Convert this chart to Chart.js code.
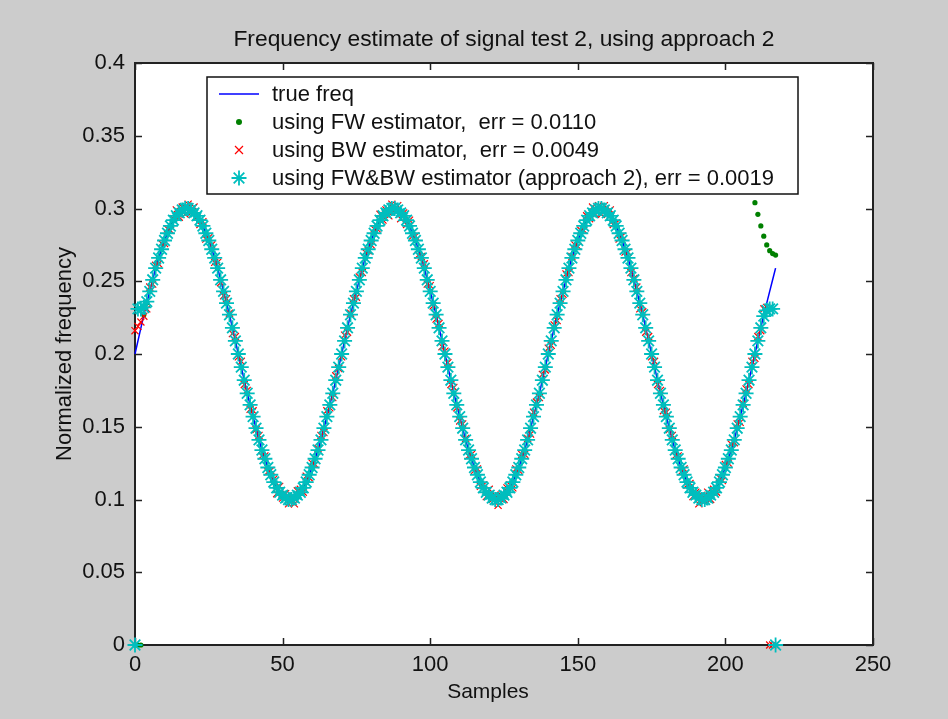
<!DOCTYPE html>
<html><head><meta charset="utf-8">
<script src="https://cdn.jsdelivr.net/npm/chart.js@4.4.1/dist/chart.umd.min.js"></script>
<style>html,body{margin:0;padding:0;background:#cccccc;overflow:hidden}canvas{display:block}</style>
</head><body>
<canvas id="c" width="948" height="719"></canvas>
<script>
const titleText = 'Frequency estimate of signal test 2, using approach 2';
const xTitle = 'Samples';
const yTitle = 'Normalized frequency';
const seriesLabels = [
  'true freq',
  'using FW estimator,  err = 0.0110',
  'using BW estimator,  err = 0.0049',
  'using FW&BW estimator (approach 2), err = 0.0019'
];
const xTickLabels = ['0','50','100','150','200','250'];
const yTickLabels = ['0','0.05','0.1','0.15','0.2','0.25','0.3','0.35','0.4'];

// true normalized frequency, samples 0..217
const trueFreq = [
0.200,0.209,0.218,0.227,0.235,0.243,0.251,0.259,0.266,0.272,0.278,0.283,0.288,0.292,0.295,0.297,0.299,0.300,0.300,0.299,0.297,0.295,0.292,0.288,0.283,0.278,0.272,0.266,0.259,0.251,0.243,0.235,0.227,0.218,0.209,0.200,0.191,0.182,0.173,0.165,0.157,0.149,0.141,0.134,0.128,0.122,0.117,0.112,0.108,0.105,0.103,0.101,0.100,0.100,0.101,0.103,0.105,0.108,0.112,0.117,0.122,0.128,0.134,0.141,0.149,0.157,0.165,0.173,0.182,0.191,
0.200,0.209,0.218,0.227,0.235,0.243,0.251,0.259,0.266,0.272,0.278,0.283,0.288,0.292,0.295,0.297,0.299,0.300,0.300,0.299,0.297,0.295,0.292,0.288,0.283,0.278,0.272,0.266,0.259,0.251,0.243,0.235,0.227,0.218,0.209,0.200,0.191,0.182,0.173,0.165,0.157,0.149,0.141,0.134,0.128,0.122,0.117,0.112,0.108,0.105,0.103,0.101,0.100,0.100,0.101,0.103,0.105,0.108,0.112,0.117,0.122,0.128,0.134,0.141,0.149,0.157,0.165,0.173,0.182,0.191,
0.200,0.209,0.218,0.227,0.235,0.243,0.251,0.259,0.266,0.272,0.278,0.283,0.288,0.292,0.295,0.297,0.299,0.300,0.300,0.299,0.297,0.295,0.292,0.288,0.283,0.278,0.272,0.266,0.259,0.251,0.243,0.235,0.227,0.218,0.209,0.200,0.191,0.182,0.173,0.165,0.157,0.149,0.141,0.134,0.128,0.122,0.117,0.112,0.108,0.105,0.103,0.101,0.100,0.100,0.101,0.103,0.105,0.108,0.112,0.117,0.122,0.128,0.134,0.141,0.149,0.157,0.165,0.173,0.182,0.191,
0.200,0.209,0.218,0.227,0.235,0.243,0.251,0.259
];

// forward estimator
const fwEst = [
0,0,0,0.227,0.235,0.243,0.251,0.259,0.266,0.272,0.278,0.283,0.288,0.292,0.295,0.297,0.299,0.300,0.300,0.299,0.297,0.295,0.292,0.288,0.283,0.278,0.272,0.266,0.259,0.251,0.243,0.235,0.227,0.218,0.209,0.200,0.191,0.182,0.173,0.165,0.157,0.149,0.141,0.134,0.128,0.122,0.117,0.112,0.108,0.105,0.103,0.101,0.100,0.100,0.101,0.103,0.105,0.108,0.112,0.117,0.122,0.128,0.134,0.141,0.149,0.157,0.165,0.173,0.182,0.191,
0.200,0.209,0.218,0.227,0.235,0.243,0.251,0.259,0.266,0.272,0.278,0.283,0.288,0.292,0.295,0.297,0.299,0.300,0.300,0.299,0.297,0.295,0.292,0.288,0.283,0.278,0.272,0.266,0.259,0.251,0.243,0.235,0.227,0.218,0.209,0.200,0.191,0.182,0.173,0.165,0.157,0.149,0.141,0.134,0.128,0.122,0.117,0.112,0.108,0.105,0.103,0.101,0.100,0.100,0.101,0.103,0.105,0.108,0.112,0.117,0.122,0.128,0.134,0.141,0.149,0.157,0.165,0.173,0.182,0.191,
0.200,0.209,0.218,0.227,0.235,0.243,0.251,0.259,0.266,0.272,0.278,0.283,0.288,0.292,0.295,0.297,0.299,0.300,0.300,0.299,0.297,0.295,0.292,0.288,0.283,0.278,0.272,0.266,0.259,0.251,0.243,0.235,0.227,0.218,0.209,0.200,0.191,0.182,0.173,0.165,0.157,0.149,0.141,0.134,0.128,0.122,0.117,0.112,0.108,0.105,0.103,0.101,0.100,0.100,0.101,0.103,0.105,0.108,0.112,0.117,0.122,0.128,0.134,0.141,0.149,0.157,0.165,0.173,0.182,0.191,
0.304,0.296,0.288,0.281,0.275,0.271,0.269,0.268
];

// backward estimator
const bwEst = [
0.216,0.219,0.222,0.226,0.231,0.246,0.248,0.261,0.262,0.276,0.276,0.286,0.285,0.293,0.299,0.294,0.301,0.296,0.303,0.297,0.301,0.294,0.289,0.291,0.279,0.280,0.275,0.263,0.263,0.249,0.240,0.238,0.228,0.214,0.212,0.198,0.195,0.179,0.175,0.162,0.161,0.148,0.144,0.130,0.130,0.119,0.120,0.114,0.104,0.109,0.101,0.104,0.097,0.101,0.097,0.106,0.107,0.105,0.116,0.115,0.125,0.124,0.135,0.144,0.146,0.161,0.163,0.170,0.185,0.190,
0.198,0.213,0.215,0.228,0.238,0.239,0.253,0.256,0.270,0.271,0.275,0.286,0.286,0.296,0.292,0.299,0.295,0.303,0.299,0.302,0.293,0.297,0.289,0.292,0.281,0.281,0.268,0.267,0.262,0.248,0.247,0.233,0.224,0.221,0.205,0.202,0.194,0.179,0.177,0.163,0.154,0.152,0.142,0.130,0.131,0.120,0.121,0.109,0.110,0.102,0.107,0.100,0.103,0.096,0.103,0.100,0.108,0.110,0.108,0.121,0.120,0.131,0.131,0.142,0.145,0.160,0.167,0.170,0.186,0.189,
0.204,0.206,0.220,0.223,0.238,0.241,0.255,0.256,0.267,0.275,0.274,0.285,0.285,0.295,0.293,0.301,0.296,0.302,0.296,0.302,0.296,0.299,0.289,0.290,0.279,0.281,0.270,0.270,0.256,0.252,0.246,0.231,0.229,0.215,0.212,0.198,0.195,0.179,0.175,0.161,0.160,0.148,0.144,0.130,0.130,0.119,0.121,0.110,0.111,0.102,0.105,0.097,0.103,0.099,0.105,0.100,0.107,0.105,0.115,0.113,0.124,0.125,0.138,0.139,0.152,0.153,0.166,0.176,0.179,0.195,
0.197,0.212,0.216,0.231,0.232,0,0,0
];

// combined forward & backward estimator (approach 2)
const fwbwEst = [
0,0.231,0.231,0.232,0.236,0.243,0.251,0.259,0.266,0.272,0.278,0.283,0.288,0.292,0.295,0.297,0.299,0.300,0.300,0.299,0.297,0.295,0.292,0.288,0.283,0.278,0.272,0.266,0.259,0.251,0.243,0.235,0.227,0.218,0.209,0.200,0.191,0.182,0.173,0.165,0.157,0.149,0.141,0.134,0.128,0.122,0.117,0.112,0.108,0.105,0.103,0.101,0.100,0.100,0.101,0.103,0.105,0.108,0.112,0.117,0.122,0.128,0.134,0.141,0.149,0.157,0.165,0.173,0.182,0.191,
0.200,0.209,0.218,0.227,0.235,0.243,0.251,0.259,0.266,0.272,0.278,0.283,0.288,0.292,0.295,0.297,0.299,0.300,0.300,0.299,0.297,0.295,0.292,0.288,0.283,0.278,0.272,0.266,0.259,0.251,0.243,0.235,0.227,0.218,0.209,0.200,0.191,0.182,0.173,0.165,0.157,0.149,0.141,0.134,0.128,0.122,0.117,0.112,0.108,0.105,0.103,0.101,0.100,0.100,0.101,0.103,0.105,0.108,0.112,0.117,0.122,0.128,0.134,0.141,0.149,0.157,0.165,0.173,0.182,0.191,
0.200,0.209,0.218,0.227,0.235,0.243,0.251,0.259,0.266,0.272,0.278,0.283,0.288,0.292,0.295,0.297,0.299,0.300,0.300,0.299,0.297,0.295,0.292,0.288,0.283,0.278,0.272,0.266,0.259,0.251,0.243,0.235,0.227,0.218,0.209,0.200,0.191,0.182,0.173,0.165,0.157,0.149,0.141,0.134,0.128,0.122,0.117,0.112,0.108,0.105,0.103,0.101,0.100,0.100,0.101,0.103,0.105,0.108,0.112,0.117,0.122,0.128,0.134,0.141,0.149,0.157,0.165,0.173,0.182,0.191,
0.200,0.209,0.218,0.226,0.230,0.231,0.231,0
];

const FONT_FAMILY = '"Liberation Sans", Arial, sans-serif';
const FONT_SIZE = 22;
const AXIS_COLOR = '#222222';
const TEXT_COLOR = '#111111';
const BLUE = 'rgb(0,0,255)', GREEN = 'rgb(0,128,0)', RED = 'rgb(255,0,0)', CYAN = 'rgb(0,190,190)';

const toPoints = arr => arr.map((v, i) => ({x: i, y: v}));

function drawMarker(ctx, kind, x, y) {
  ctx.save();
  if (kind === 'line') {
    ctx.strokeStyle = BLUE; ctx.lineWidth = 1.5;
    ctx.beginPath(); ctx.moveTo(x - 20, y); ctx.lineTo(x + 20, y); ctx.stroke();
  } else if (kind === 'dot') {
    ctx.fillStyle = GREEN;
    ctx.beginPath(); ctx.arc(x, y, 3, 0, Math.PI * 2); ctx.fill();
  } else if (kind === 'x') {
    ctx.strokeStyle = RED; ctx.lineWidth = 1.2;
    const r = 4;
    ctx.beginPath(); ctx.moveTo(x - r, y - r); ctx.lineTo(x + r, y + r);
    ctx.moveTo(x - r, y + r); ctx.lineTo(x + r, y - r); ctx.stroke();
  } else if (kind === 'star') {
    ctx.strokeStyle = CYAN; ctx.lineWidth = 1.8;
    const r = 7.5, d = r * Math.SQRT1_2;
    ctx.beginPath();
    ctx.moveTo(x - r, y); ctx.lineTo(x + r, y);
    ctx.moveTo(x, y - r); ctx.lineTo(x, y + r);
    ctx.moveTo(x - d, y - d); ctx.lineTo(x + d, y + d);
    ctx.moveTo(x - d, y + d); ctx.lineTo(x + d, y - d);
    ctx.stroke();
  }
  ctx.restore();
}

const matlabFrame = {
  id: 'matlabFrame',
  beforeDraw(chart) {
    const {ctx, chartArea: a, width, height} = chart;
    ctx.save();
    ctx.fillStyle = '#cccccc';
    ctx.fillRect(0, 0, width, height);
    ctx.fillStyle = '#ffffff';
    ctx.fillRect(a.left, a.top, a.right - a.left, a.bottom - a.top);
    ctx.restore();
  },
  beforeDatasetsDraw(chart) {
    const {ctx, chartArea: a, scales} = chart;
    ctx.save();
    ctx.strokeStyle = AXIS_COLOR;
    ctx.lineWidth = 1.5;
    const tl = 7;
    ctx.beginPath();
    scales.x.ticks.forEach(t => {
      const px = Math.round(scales.x.getPixelForValue(t.value)) + 0.5;
      ctx.moveTo(px, a.bottom); ctx.lineTo(px, a.bottom - tl);
      ctx.moveTo(px, a.top); ctx.lineTo(px, a.top + tl);
    });
    scales.y.ticks.forEach(t => {
      const py = Math.round(scales.y.getPixelForValue(t.value)) + 0.5;
      ctx.moveTo(a.left, py); ctx.lineTo(a.left + tl, py);
      ctx.moveTo(a.right, py); ctx.lineTo(a.right - tl, py);
    });
    ctx.stroke();
    ctx.lineWidth = 2;
    ctx.strokeRect(a.left, a.top, a.right - a.left, a.bottom - a.top);
    ctx.restore();
  },
  afterDatasetsDraw(chart) {
    const {ctx} = chart;
    const box = {l: 207, t: 77, r: 798, b: 194};
    ctx.save();
    ctx.fillStyle = '#ffffff';
    ctx.fillRect(box.l, box.t, box.r - box.l, box.b - box.t);
    ctx.strokeStyle = '#111111';
    ctx.lineWidth = 1.5;
    ctx.strokeRect(box.l, box.t, box.r - box.l, box.b - box.t);
    const kinds = ['line', 'dot', 'x', 'star'];
    ctx.font = FONT_SIZE + 'px ' + FONT_FAMILY;
    ctx.fillStyle = TEXT_COLOR;
    ctx.textBaseline = 'middle';
    ctx.textAlign = 'left';
    chart.data.datasets.slice().sort((p, q) => p.legendIndex - q.legendIndex).forEach((ds, i) => {
      const y = 94 + i * 28;
      drawMarker(ctx, kinds[i], 239, y);
      ctx.fillText(ds.label, 272, y + 1);
    });
    ctx.restore();
  },
  afterDraw(chart) {
    const {ctx, chartArea: a} = chart;
    ctx.save();
    ctx.fillStyle = TEXT_COLOR;
    ctx.textAlign = 'center';
    ctx.textBaseline = 'middle';
    ctx.font = '22.8px ' + FONT_FAMILY;
    ctx.fillText(titleText, (a.left + a.right) / 2, 40);
    ctx.font = '21px ' + FONT_FAMILY;
    ctx.fillText(xTitle, 488, 692);
    ctx.restore();
  }
};

new Chart(document.getElementById('c'), {
  type: 'scatter',
  data: {
    datasets: [
      {label: seriesLabels[0], legendIndex: 0, order: 4, data: toPoints(trueFreq), showLine: true,
       borderColor: BLUE, borderWidth: 1.5, pointRadius: 0, clip: false},
      {label: seriesLabels[1], legendIndex: 1, order: 3, data: toPoints(fwEst), showLine: false,
       pointStyle: 'circle', pointRadius: 2.6, backgroundColor: GREEN, borderColor: GREEN, borderWidth: 0, clip: false},
      {label: seriesLabels[2], legendIndex: 2, order: 2, data: toPoints(bwEst), showLine: false,
       pointStyle: 'crossRot', pointRadius: 5, borderColor: RED, backgroundColor: RED, borderWidth: 1.2, clip: false},
      {label: seriesLabels[3], legendIndex: 3, order: 1, data: toPoints(fwbwEst), showLine: false,
       pointStyle: 'star', pointRadius: 7.5, borderColor: CYAN, backgroundColor: CYAN, borderWidth: 1.8, clip: false}
    ]
  },
  options: {
    responsive: false,
    animation: false,
    events: [],
    layout: {padding: {top: 63, right: 75, bottom: 0, left: 0}},
    plugins: {legend: {display: false}, tooltip: {enabled: false}, title: {display: false}},
    scales: {
      x: {
        type: 'linear', min: 0, max: 250,
        afterFit(s) { s.height = 74; },
        grid: {display: false, drawTicks: false},
        border: {display: false},
        ticks: {stepSize: 50, padding: 7, color: TEXT_COLOR, maxRotation: 0,
                font: {family: FONT_FAMILY, size: FONT_SIZE},
                callback: (v, i) => xTickLabels[i]},
        title: {display: false}
      },
      y: {
        type: 'linear', min: 0, max: 0.4,
        afterFit(s) { s.width = 135; },
        grid: {display: false, drawTicks: false},
        border: {display: false},
        ticks: {stepSize: 0.05, padding: 10, color: TEXT_COLOR,
                font: {family: FONT_FAMILY, size: FONT_SIZE},
                callback: (v, i) => yTickLabels[i]},
        title: {display: true, text: yTitle, color: TEXT_COLOR,
                font: {family: FONT_FAMILY, size: FONT_SIZE}, padding: {top: 52, bottom: 0}}
      }
    }
  },
  plugins: [matlabFrame]
});
</script>
</body></html>
